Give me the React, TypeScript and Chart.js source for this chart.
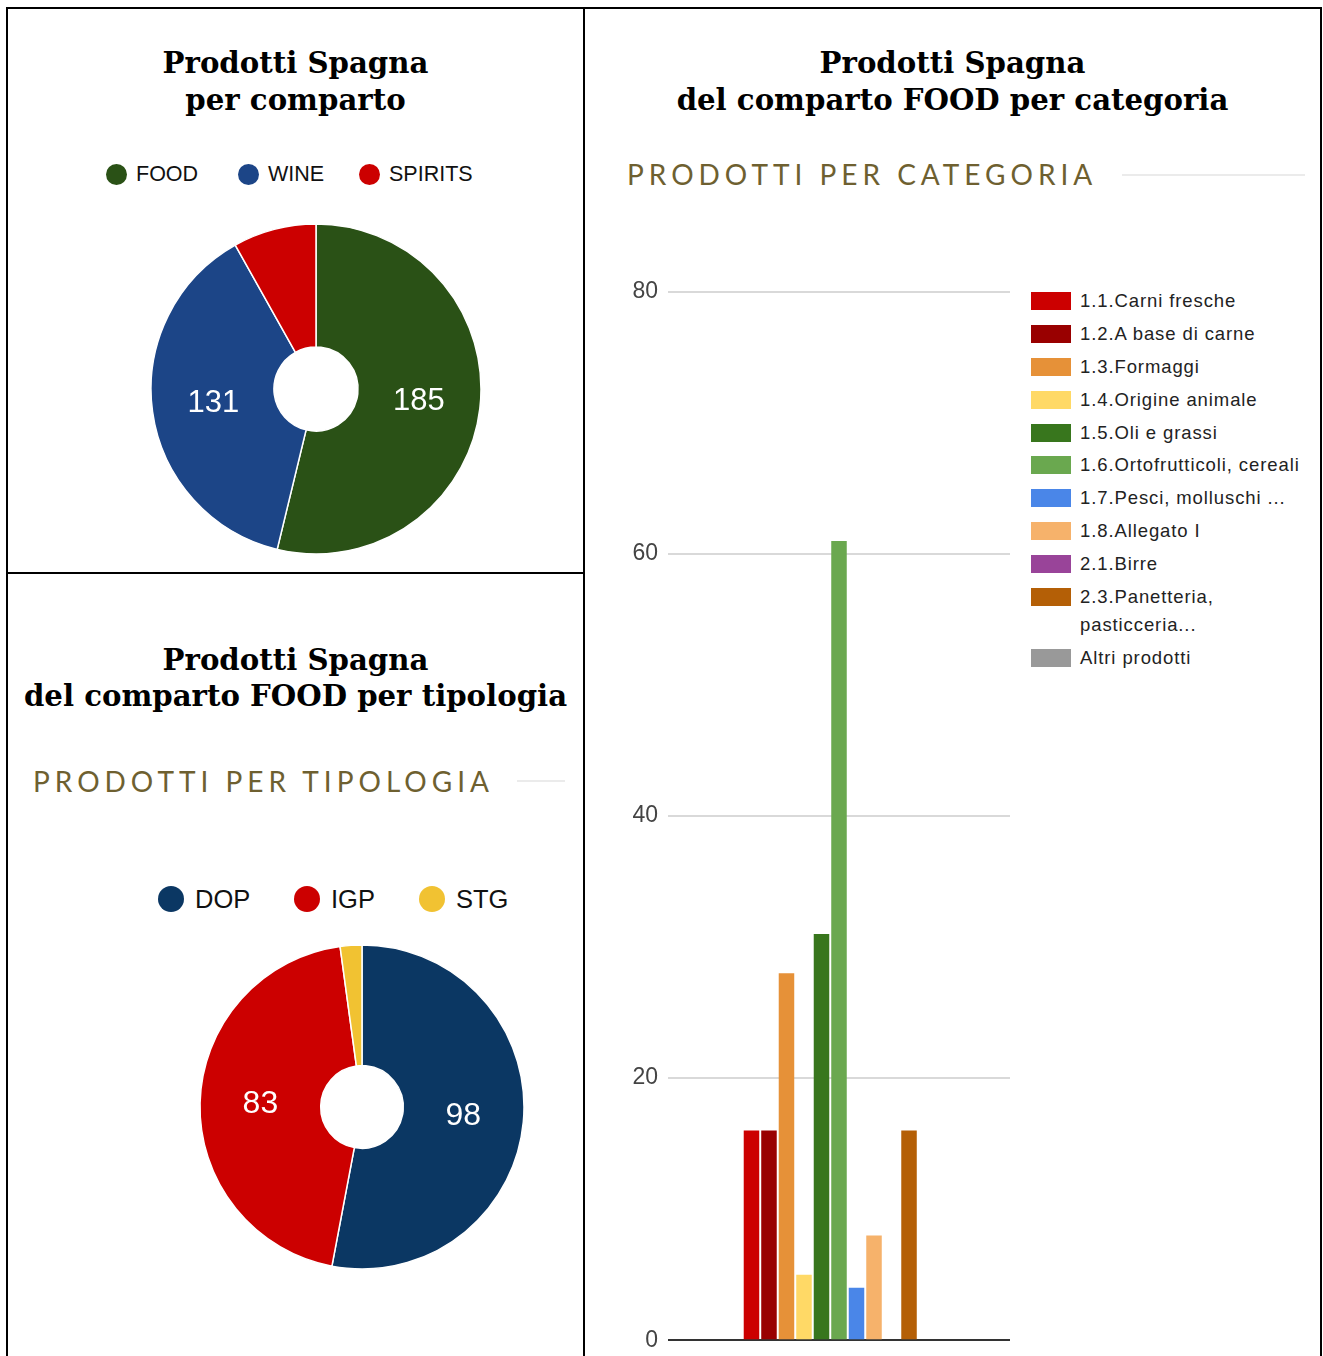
import React, { useEffect, useRef } from "react";
import { Chart, registerables } from "chart.js";

Chart.register(...registerables);

// ---------- DATA ----------
const compartoLabels = ["FOOD", "WINE", "SPIRITS"];
const compartoValues = [185, 131, 28];
const compartoColors = ["#2a5116", "#1c4587", "#cc0000"];

const tipologiaLabels = ["DOP", "IGP", "STG"];
const tipologiaValues = [98, 83, 4];
const tipologiaColors = ["#0b3763", "#cc0000", "#f1c232"];

const categoriaLabels = [
  "1.1.Carni fresche",
  "1.2.A base di carne",
  "1.3.Formaggi",
  "1.4.Origine animale",
  "1.5.Oli e grassi",
  "1.6.Ortofrutticoli, cereali",
  "1.7.Pesci, molluschi ...",
  "1.8.Allegato I",
  "2.1.Birre",
  "2.3.Panetteria, pasticceria...",
  "Altri prodotti",
];
const categoriaValues = [16, 16, 28, 5, 31, 61, 4, 8, 0, 16, 0];
const categoriaColors = [
  "#cc0000",
  "#990000",
  "#e69138",
  "#ffd966",
  "#38761d",
  "#6aa84f",
  "#4a86e8",
  "#f6b26b",
  "#994499",
  "#b45f06",
  "#999999",
];
const yTickValues = [0, 20, 40, 60, 80];

// ---------- STYLES ----------
const SANS = '"Liberation Sans", Arial, sans-serif';
const SERIF = '"DejaVu Serif", Georgia, serif';
const HEADING = 'Lato, "Open Sans", sans-serif';
const HEADING_COLOR = "#6e6030";

const sliceLabelPlugin = {
  id: "sliceLabels",
  afterDatasetsDraw(chart: any, _args: any, opts: any) {
    const ctx = chart.ctx;
    const ds = chart.data.datasets[0];
    const values = ds.data as number[];
    const total = values.reduce((a, b) => a + b, 0);
    const meta = chart.getDatasetMeta(0);
    ctx.save();
    ctx.fillStyle = "#ffffff";
    ctx.font = `${opts.size || 30}px ${SANS}`;
    ctx.textAlign = "center";
    ctx.textBaseline = "middle";
    meta.data.forEach((arc: any, i: number) => {
      const v = values[i];
      if (v / total < 0.1) return;
      const p = arc.tooltipPosition(false);
      ctx.fillText(String(v), p.x, p.y);
    });
    ctx.restore();
  },
};

function Doughnut(props: {
  labels: string[];
  values: number[];
  colors: string[];
  radius: number;
  labelSize: number;
  cx: number;
  cy: number;
}) {
  const ref = useRef<HTMLCanvasElement>(null);
  const size = props.radius * 2 + 12;
  useEffect(() => {
    if (!ref.current) return;
    const chart = new Chart(ref.current, {
      type: "doughnut",
      data: {
        labels: props.labels,
        datasets: [
          {
            data: props.values,
            backgroundColor: props.colors,
            borderColor: "#ffffff",
            borderWidth: 1.5,
          },
        ],
      },
      options: {
        animation: false,
        responsive: false,
        maintainAspectRatio: false,
        radius: props.radius,
        cutout: "25.5%",
        layout: { padding: 0 },
        plugins: {
          legend: { display: false },
          tooltip: { enabled: false },
          sliceLabels: { size: props.labelSize },
        } as any,
      } as any,
      plugins: [sliceLabelPlugin as any],
    });
    return () => chart.destroy();
  }, []);
  return (
    <canvas
      ref={ref}
      width={size}
      height={size}
      style={{
        position: "absolute",
        left: props.cx - size / 2,
        top: props.cy - size / 2,
        width: size,
        height: size,
      }}
    />
  );
}

function BarChart() {
  const ref = useRef<HTMLCanvasElement>(null);
  useEffect(() => {
    if (!ref.current) return;
    const chart = new Chart(ref.current, {
      type: "bar",
      data: {
        labels: [""],
        datasets: categoriaLabels.map((l, i) => ({
          label: l,
          data: [categoriaValues[i]],
          backgroundColor: categoriaColors[i],
          borderWidth: 0,
          categoryPercentage: 0.563,
          barPercentage: 0.886,
        })),
      },
      options: {
        animation: false,
        responsive: false,
        maintainAspectRatio: false,
        layout: { padding: { left: 0, right: 10, top: 42, bottom: 9 } },
        scales: {
          x: { display: false },
          y: {
            min: 0,
            max: 80,
            afterFit: (s: any) => {
              s.width = 68;
            },
            afterBuildTicks: (s: any) => {
              s.ticks = yTickValues.map((v) => ({ value: v }));
            },
            ticks: {
              padding: 10,
              color: "#444444",
              font: { family: SANS, size: 23 },
            },
            grid: {
              drawTicks: false,
              lineWidth: 2,
              color: (c: any) =>
                c.tick && c.tick.value === 0 ? "#333333" : "#d9d9d9",
            },
            border: { display: false },
          },
        },
        plugins: {
          legend: { display: false },
          tooltip: { enabled: false },
        },
      } as any,
    });
    return () => chart.destroy();
  }, []);
  return (
    <canvas
      ref={ref}
      width={420}
      height={1114}
      style={{ position: "absolute", left: 600, top: 250, width: 420, height: 1114 }}
    />
  );
}

function Title(props: { lines: string[]; left: number; width: number; top: number; lh: number }) {
  return (
    <div
      style={{
        position: "absolute",
        left: props.left,
        width: props.width,
        top: props.top,
        textAlign: "center",
        fontFamily: SERIF,
        fontWeight: "bold",
        fontSize: 29.2,
        lineHeight: props.lh + "px",
        color: "#000",
        whiteSpace: "nowrap",
      }}
    >
      {props.lines.map((l, i) => (
        <div key={i}>{l}</div>
      ))}
    </div>
  );
}

function Heading(props: { text: string; left: number; top: number; lineFrom: number; lineTo: number; lineY: number }) {
  return (
    <>
      <div
        style={{
          position: "absolute",
          left: props.left,
          top: props.top,
          fontFamily: HEADING,
          fontSize: 28,
          lineHeight: "32px",
          letterSpacing: "5px",
          color: HEADING_COLOR,
          whiteSpace: "nowrap",
        }}
      >
        {props.text}
      </div>
      <div
        style={{
          position: "absolute",
          left: props.lineFrom,
          width: props.lineTo - props.lineFrom,
          top: props.lineY - 1,
          height: 2,
          background: "#ebebeb",
        }}
      />
    </>
  );
}

function PieLegend(props: {
  labels: string[];
  colors: string[];
  centers: number[];
  cy: number;
  dot: number;
  font: number;
  dotGap: number;
}) {
  return (
    <>
      {props.labels.map((l, i) => (
        <div
          key={l}
          style={{
            position: "absolute",
            left: props.centers[i] - props.dot / 2,
            top: props.cy - 20,
            height: 40,
            display: "flex",
            alignItems: "center",
            whiteSpace: "nowrap",
          }}
        >
          <div
            style={{
              width: props.dot,
              height: props.dot,
              borderRadius: "50%",
              background: props.colors[i],
              marginRight: props.dotGap,
            }}
          />
          <span
            style={{
              fontFamily: SANS,
              fontSize: props.font,
              lineHeight: "40px",
              color: "#111111",
            }}
          >
            {l}
          </span>
        </div>
      ))}
    </>
  );
}

function BarLegend() {
  return (
    <div style={{ position: "absolute", left: 1031, top: 287, width: 285 }}>
      {categoriaLabels.map((l, i) => (
        <div key={l} style={{ display: "flex", alignItems: "flex-start", marginBottom: 4.9 }}>
          <div
            style={{
              width: 40,
              height: 18,
              marginTop: 5,
              background: categoriaColors[i],
              flex: "0 0 auto",
            }}
          />
          <div
            style={{
              marginLeft: 9,
              width: 228,
              fontFamily: SANS,
              fontSize: 18.5,
              letterSpacing: "0.9px",
              lineHeight: "28px",
              color: "#222222",
            }}
          >
            {l}
          </div>
        </div>
      ))}
    </div>
  );
}

function Line(props: { x: number; y: number; w: number; h: number }) {
  return (
    <div
      style={{
        position: "absolute",
        left: props.x,
        top: props.y,
        width: props.w,
        height: props.h,
        background: "#000",
      }}
    />
  );
}

export default function App() {
  return (
    <div
      style={{
        position: "absolute",
        left: 0,
        top: 0,
        width: 1323,
        height: 1356,
        background: "#fff",
        overflow: "hidden",
      }}
    >
      {/* borders */}
      <Line x={6} y={7} w={1316} h={2} />
      <Line x={6} y={7} w={2} h={1349} />
      <Line x={583} y={7} w={2} h={1349} />
      <Line x={1320} y={7} w={2} h={1349} />
      <Line x={6} y={572} w={579} h={2} />

      {/* top-left: per comparto */}
      <Title lines={["Prodotti Spagna", "per comparto"]} left={8} width={575} top={45} lh={37} />
      <PieLegend
        labels={compartoLabels}
        colors={compartoColors}
        centers={[116, 248, 369]}
        cy={174}
        dot={21}
        font={21.5}
        dotGap={9.5}
      />
      <Doughnut
        labels={compartoLabels}
        values={compartoValues}
        colors={compartoColors}
        radius={165}
        labelSize={31}
        cx={316}
        cy={389}
      />

      {/* bottom-left: per tipologia */}
      <Title
        lines={["Prodotti Spagna", "del comparto FOOD per tipologia"]}
        left={8}
        width={575}
        top={642}
        lh={36}
      />
      <Heading text="PRODOTTI PER TIPOLOGIA" left={33} top={765} lineFrom={517} lineTo={565} lineY={781} />
      <PieLegend
        labels={tipologiaLabels}
        colors={tipologiaColors}
        centers={[171, 307, 432]}
        cy={899}
        dot={26}
        font={25.5}
        dotGap={11}
      />
      <Doughnut
        labels={tipologiaLabels}
        values={tipologiaValues}
        colors={tipologiaColors}
        radius={162}
        labelSize={32}
        cx={362}
        cy={1107}
      />

      {/* right: per categoria */}
      <Title
        lines={["Prodotti Spagna", "del comparto FOOD per categoria"]}
        left={585}
        width={735}
        top={45}
        lh={37}
      />
      <Heading text="PRODOTTI PER CATEGORIA" left={627} top={158} lineFrom={1122} lineTo={1305} lineY={175} />
      <BarChart />
      <BarLegend />
    </div>
  );
}
